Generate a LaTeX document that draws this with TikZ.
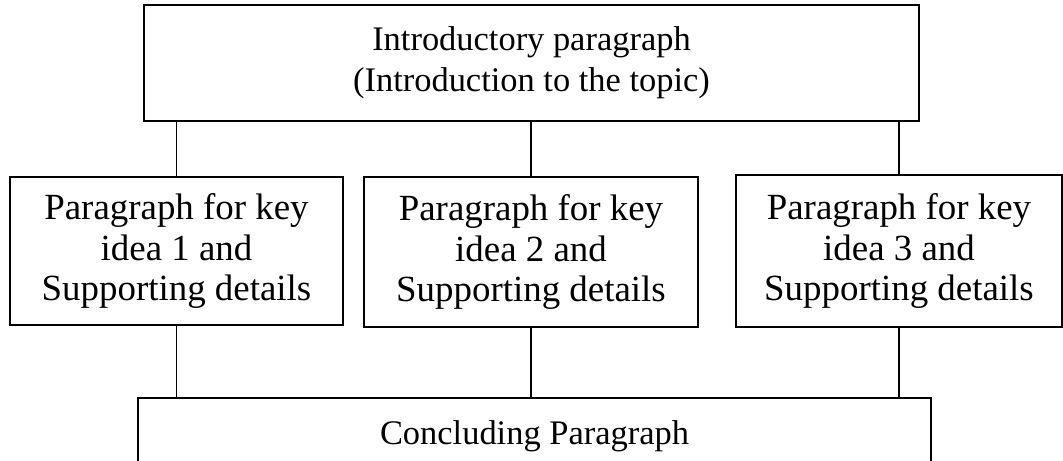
\documentclass[tikz,border=0pt]{standalone}
\usepackage{fontspec}
\setmainfont{Liberation Serif}
\usetikzlibrary{positioning}

\begin{document}
\begin{tikzpicture}[
    box/.style={rectangle, draw, line width=0.85pt, align=center, inner sep=0pt,
        font=\fontsize{21}{22.8}\selectfont},
    wide/.style={box, font=\fontsize{19.6}{23.3}\selectfont},
    link/.style={line width=0.85pt}
]
\useasboundingbox (0,0) rectangle (21.26,-9.22);

% introduction
\node[wide, minimum width=15.5cm, minimum height=2.32cm] (intro) at (10.63,-1.26)
    {Introductory paragraph\\(Introduction to the topic)};

% key ideas
\node[box, minimum width=6.66cm, minimum height=2.96cm] (idea1) at (3.53,-5.02)
    {Paragraph for key\\idea 1 and\\Supporting details};
\node[box, minimum width=6.68cm, minimum height=3.0cm] (idea2) at (10.62,-5.04)
    {Paragraph for key\\idea 2 and\\Supporting details};
\node[box, minimum width=6.52cm, minimum height=3.04cm] (idea3) at (17.98,-5.02)
    {Paragraph for key\\idea 3 and\\Supporting details};

% conclusion
\node[wide, minimum width=15.86cm, minimum height=1.54cm] (concl) at (10.69,-8.73)
    {Concluding Paragraph};

% connectors
\foreach \n in {idea1, idea2, idea3} {
    \draw[link] (\n.north |- intro.south) -- (\n.north);
    \draw[link] (\n.south) -- (\n.south |- concl.north);
}

\end{tikzpicture}
\end{document}
